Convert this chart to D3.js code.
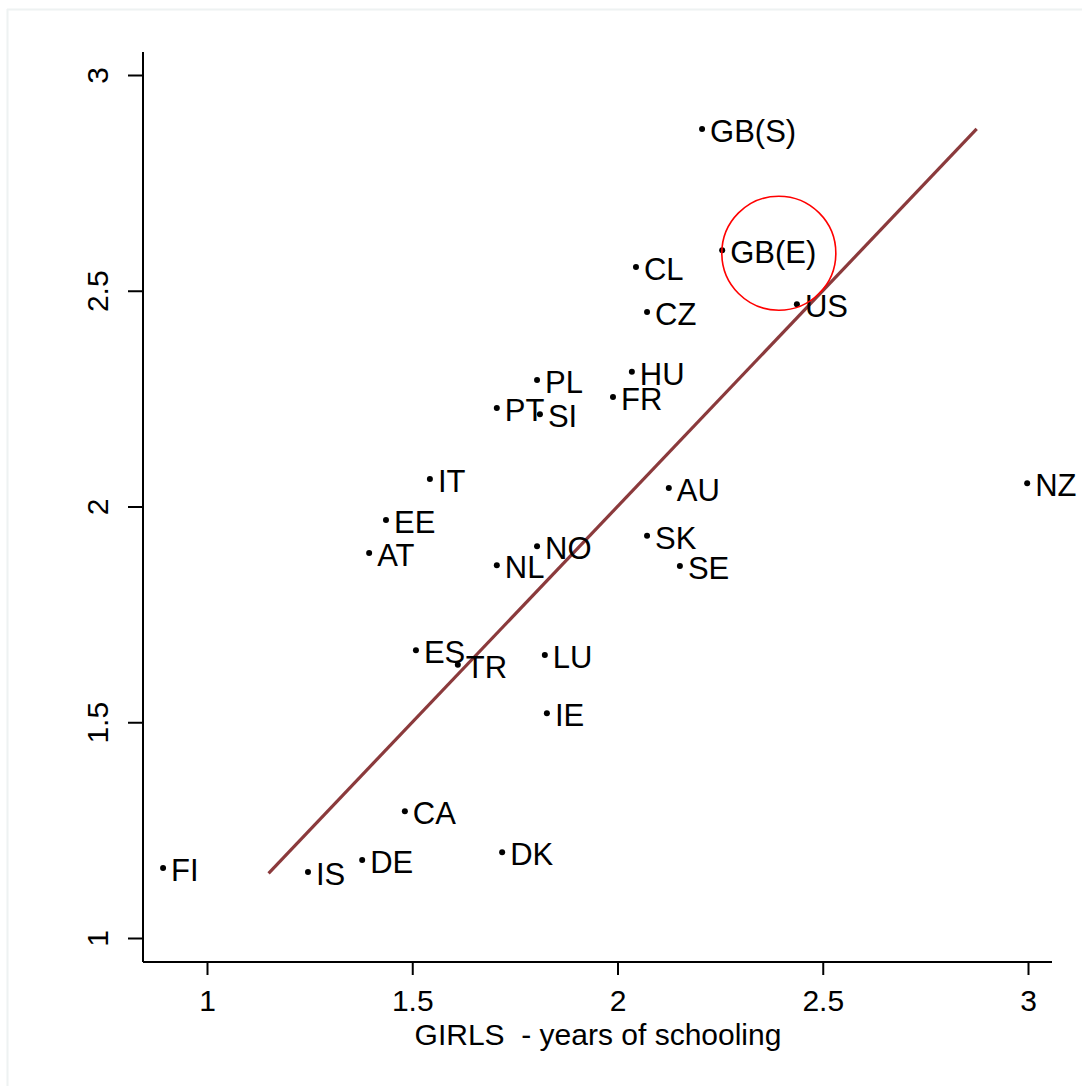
<!DOCTYPE html>
<html>
<head>
<meta charset="utf-8">
<script src="https://cdn.jsdelivr.net/npm/d3@7"></script>
<style>
  body { margin: 0; background: #fff; }
  text { font-family: "Liberation Sans", Arial, sans-serif; }
</style>
</head>
<body>
<script>
var countries = ["FI", "IS", "DE", "CA", "DK", "ES", "TR", "LU", "IE", "NL", "NO", "AT", "EE", "IT",
  "PT", "SI", "PL", "FR", "HU", "CL", "CZ", "GB(S)", "GB(E)", "US", "AU", "SK", "SE", "NZ"];
var girls = [0.893, 1.246, 1.378, 1.482, 1.719, 1.509, 1.611, 1.823, 1.828, 1.706, 1.804, 1.395, 1.436, 1.543,
  1.706, 1.811, 1.804, 1.989, 2.035, 2.045, 2.072, 2.206, 2.255, 2.437, 2.125, 2.072, 2.152, 2.998];
var boys = [1.162, 1.153, 1.181, 1.294, 1.199, 1.667, 1.633, 1.656, 1.521, 1.864, 1.908, 1.892, 1.969, 2.064,
  2.228, 2.214, 2.293, 2.254, 2.312, 2.555, 2.451, 2.875, 2.594, 2.469, 2.043, 1.932, 1.862, 2.054];
var xTicks = [1, 1.5, 2, 2.5, 3];
var yTicks = [1, 1.5, 2, 2.5, 3];
var fitLine = [1.15, 2.875];
var highlight = { x: 2.393, y: 2.587 };

function draw_vis(width, height) {
  var svg = d3.select("body")
    .append("svg")
    .attr("width", width)
    .attr("height", height);

  // light frame
  svg.append("line").attr("x1", 7).attr("x2", width).attr("y1", 9.5).attr("y2", 9.5)
    .attr("stroke", "#eef2f2").attr("stroke-width", 2);
  svg.append("line").attr("x1", 7.5).attr("x2", 7.5).attr("y1", 9).attr("y2", height)
    .attr("stroke", "#eef2f2").attr("stroke-width", 2);

  var x = d3.scaleLinear().domain([1, 3]).range([207, 1028]);
  var y = d3.scaleLinear().domain([1, 3]).range([938, 75]);

  // axes
  svg.append("line").attr("x1", 143).attr("x2", 1052).attr("y1", 962).attr("y2", 962)
    .attr("stroke", "#000").attr("stroke-width", 2);
  svg.append("line").attr("x1", 143).attr("x2", 143).attr("y1", 52).attr("y2", 962)
    .attr("stroke", "#000").attr("stroke-width", 2);

  var xAxis = svg.append("g")
    .attr("transform", "translate(0,962)")
    .call(d3.axisBottom(x).tickValues(xTicks).tickSize(13).tickPadding(15).tickFormat(d3.format("")));
  xAxis.select(".domain").remove();
  xAxis.selectAll("line").attr("stroke-width", 2);
  xAxis.selectAll("text").attr("font-size", 30).attr("font-family", "Liberation Sans, Arial, sans-serif").attr("fill", "#000");

  var yAxis = svg.append("g")
    .attr("transform", "translate(143,0)")
    .call(d3.axisLeft(y).tickValues(yTicks).tickSize(15).tickFormat(d3.format("")));
  yAxis.select(".domain").remove();
  yAxis.selectAll("line").attr("stroke-width", 2);
  yAxis.selectAll("text")
    .attr("font-size", 30).attr("font-family", "Liberation Sans, Arial, sans-serif").attr("fill", "#000")
    .attr("x", null)
    .attr("text-anchor", "middle")
    .attr("transform", "translate(-46,0) rotate(-90)")
    .attr("y", 0).attr("dy", "0.36em");

  // 45 degree line
  svg.append("line")
    .attr("x1", x(fitLine[0])).attr("y1", y(fitLine[0]))
    .attr("x2", x(fitLine[1])).attr("y2", y(fitLine[1]))
    .attr("stroke", "#8b3a3c").attr("stroke-width", 3.2);

  var pts = countries.map(function(c, i) { return { c: c, x: girls[i], y: boys[i] }; });

  svg.selectAll(".dot").data(pts).enter().append("circle")
    .attr("cx", function(d) { return x(d.x); })
    .attr("cy", function(d) { return y(d.y); })
    .attr("r", 3)
    .attr("fill", "#000");

  svg.selectAll(".lbl").data(pts).enter().append("text")
    .attr("x", function(d) { return x(d.x) + 8; })
    .attr("y", function(d) { return y(d.y) + 13; })
    .attr("font-size", 31)
    .attr("fill", "#000")
    .text(function(d) { return d.c; });

  svg.append("circle")
    .attr("cx", x(highlight.x)).attr("cy", y(highlight.y))
    .attr("r", 57)
    .attr("fill", "none").attr("stroke", "#ff0000").attr("stroke-width", 1.6);

  svg.append("text")
    .attr("x", 598).attr("y", 1045)
    .attr("text-anchor", "middle")
    .attr("font-size", 30)
    .style("white-space", "pre")
    .text("GIRLS  - years of schooling");
}

draw_vis(1082, 1086);
</script>
</body>
</html>
